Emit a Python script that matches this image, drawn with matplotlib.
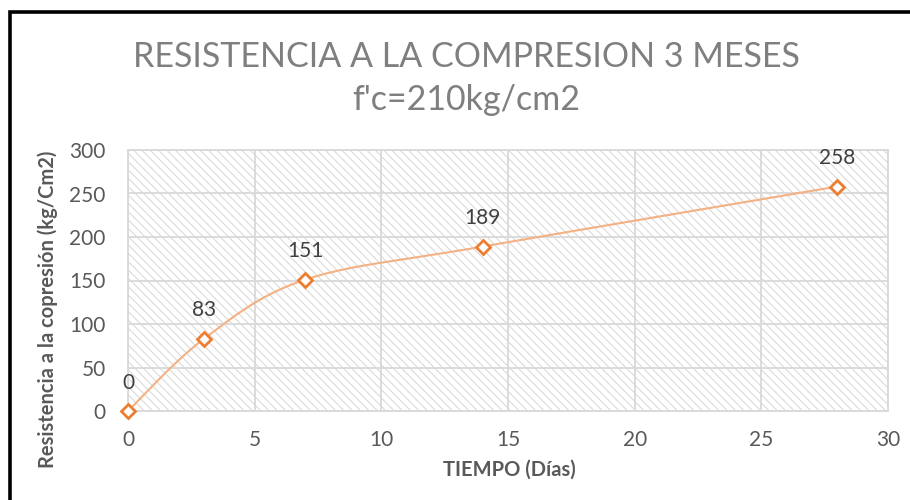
import numpy as np
import matplotlib
matplotlib.use("Agg")
import matplotlib.pyplot as plt
from matplotlib.patches import Rectangle

plt.rcParams['font.family'] = ['Lato', 'DejaVu Sans']
plt.rcParams['hatch.linewidth'] = 0.7

# ensayo a compresion
dias = [0, 3, 7, 14, 28]
resistencia = [0, 83, 151, 189, 258]
xticks = [0, 5, 10, 15, 20, 25, 30]
yticks = [0, 50, 100, 150, 200, 250, 300]

naranja = '#ed7d31'
linea = '#f4b183'
gris_txt = '#595959'
rejilla = '#d9d9d9'


def suavizado(x, y, n=40):
    # curva tipo excel: bezier con puntos de control a 1/6
    x = np.asarray(x, float)
    y = np.asarray(y, float)
    px = np.concatenate([[x[0]], x, [x[-1]]])
    py = np.concatenate([[y[0]], y, [y[-1]]])
    xs, ys = [], []
    t = np.linspace(0, 1, n)
    for i in range(1, len(px) - 2):
        p0 = np.array([px[i], py[i]])
        p3 = np.array([px[i + 1], py[i + 1]])
        c1 = p0 + (np.array([px[i + 1], py[i + 1]]) - np.array([px[i - 1], py[i - 1]])) / 6
        c2 = p3 - (np.array([px[i + 2], py[i + 2]]) - np.array([px[i], py[i]])) / 6
        b = ((1 - t) ** 3)[:, None] * p0 + (3 * (1 - t) ** 2 * t)[:, None] * c1 \
            + (3 * (1 - t) * t ** 2)[:, None] * c2 + (t ** 3)[:, None] * p3
        xs.extend(b[:, 0])
        ys.extend(b[:, 1])
    return xs, ys


fig = plt.figure(figsize=(9.1, 5.0), dpi=100)
ax = fig.add_axes([128 / 910, 89 / 500, 760 / 910, 261 / 500])

# marco negro de la captura
fig.patches.append(Rectangle((9.5 / 910, -0.1), 1.2, 488 / 500 + 0.1 - 0.001,
                             transform=fig.transFigure, fill=False,
                             edgecolor='black', linewidth=2.6, zorder=0))

# fondo rayado del area de trazado
ax.add_patch(Rectangle((0, 0), 1, 1, transform=ax.transAxes, facecolor='white',
                       edgecolor='#d6d6d6', hatch='\\\\\\\\', linewidth=0, zorder=0))

ax.set_xlim(0, 30)
ax.set_ylim(0, 300)
ax.set_xticks(xticks)
ax.set_yticks(yticks)
ax.grid(True, color=rejilla, linewidth=1.3, zorder=1)
ax.set_axisbelow(True)
for s in ax.spines.values():
    s.set_color(rejilla)
    s.set_linewidth(1.3)
ax.tick_params(length=0, labelsize=15, labelcolor=gris_txt)
ax.tick_params(axis='x', pad=13.5)
ax.tick_params(axis='y', pad=16)

xs, ys = suavizado(dias, resistencia)
ax.plot(xs, ys, color=linea, linewidth=1.5, zorder=3)
ax.plot(dias, resistencia, linestyle='none', marker='D', markersize=7,
        markerfacecolor='white', markeredgecolor=naranja, markeredgewidth=2,
        zorder=4, clip_on=False)

for xd, yd in zip(dias, resistencia):
    ax.annotate(str(yd), (xd, yd), xytext=(0, 20.5), textcoords='offset points',
                ha='center', va='center', fontsize=15, color='#404040')

fig.text(509 / 910, 1 - 470 / 500, 'TIEMPO (Días)', ha='center', va='center',
         fontsize=14.5, fontweight='bold', color=gris_txt)
fig.text(48 / 910, 1 - 309 / 500, 'Resistencia a la copresión (kg/Cm2)', ha='center',
         va='center', rotation=90, fontsize=14.5, fontweight='bold', color=gris_txt)

fig.text(466 / 910, 1 - 57 / 500, 'RESISTENCIA A LA COMPRESION 3 MESES', ha='center',
         va='center', fontsize=24.5, color='#7f7f7f')
fig.text(466 / 910, 1 - 100 / 500, "f'c=210kg/cm2", ha='center', va='center',
         fontsize=24.5, color='#7f7f7f')

fig.savefig('out.png', dpi=100)
